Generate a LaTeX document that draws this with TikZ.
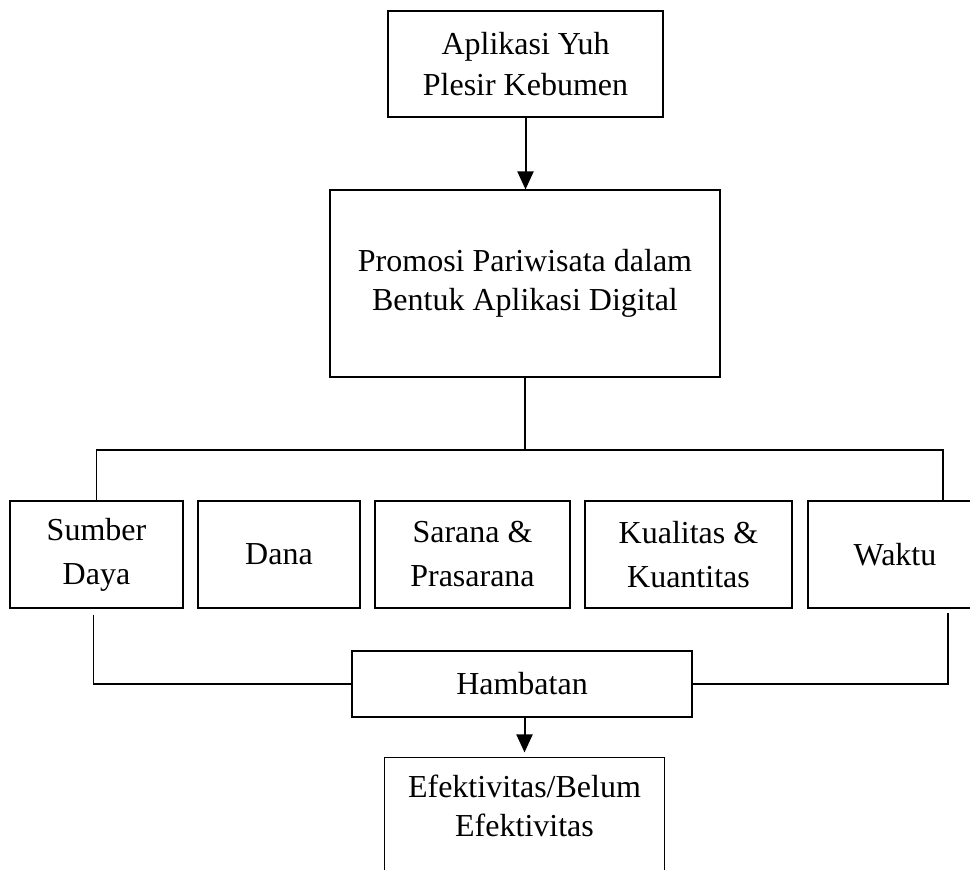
\documentclass[tikz,border=0pt]{standalone}
\usepackage{fontspec}
\setmainfont{Liberation Serif}
\usetikzlibrary{arrows.meta}

\begin{document}
\begin{tikzpicture}[x=1pt,y=-1pt,
  kotak/.style={draw,line width=1.1pt,align=center,inner sep=0pt,
    font=\fontsize{32}{39}\selectfont},
  faktor/.style={kotak,minimum height=107,font=\fontsize{32}{44}\selectfont},
  garis/.style={line width=1.1pt},
  panah/.style={line width=2pt,-{Triangle[length=18pt,width=16pt]}}]
\useasboundingbox (0,0) rectangle (970,870);

\node[kotak,minimum width=275,minimum height=106,font=\fontsize{32}{41}\selectfont] (aplikasi) at (525.5,64) {Aplikasi Yuh\\Plesir Kebumen};
\node[kotak,minimum width=390,minimum height=187] (promosi) at (525,283.5) {Promosi Pariwisata dalam\\Bentuk Aplikasi Digital};

% faktor
\node[faktor,minimum width=173] (sumber) at (96.5,554.5) {Sumber\\Daya};
\node[faktor,minimum width=162] (dana) at (279,554.5) {Dana};
\node[faktor,minimum width=195] (sarana) at (472.5,554.5) {Sarana \&\\Prasarana};
\node[faktor,minimum width=207] (kualitas) at (688.5,554.5) {Kualitas \&\\Kuantitas};
\node[faktor,minimum width=174] (waktu) at (895,554.5) {Waktu};

\node[kotak,minimum width=340,minimum height=66] (hambatan) at (522,684) {Hambatan};
\node[kotak,draw=none,minimum width=279,minimum height=96] (hasil) at (524.5,806) {Efektivitas/Belum\\Efektivitas};
\draw[garis] (hasil.north west) rectangle ([yshift=-40]hasil.south east);

\draw[panah] (aplikasi.south) -- (aplikasi.south |- promosi.north);
\coordinate (cabang) at (525,450);
\draw[garis] (promosi) -- (cabang);
\draw[garis] (sumber.north) |- (cabang) -| ([xshift=48]waktu.north);
\draw[garis] ([xshift=-3,yshift=-6]sumber.south) |- (hambatan.west);
\draw[garis] ([xshift=53,yshift=-4]waktu.south) |- (hambatan.east);
\draw[panah,shorten >=5pt] (hambatan.south -| hasil.north) -- (hasil.north);
\end{tikzpicture}
\end{document}
